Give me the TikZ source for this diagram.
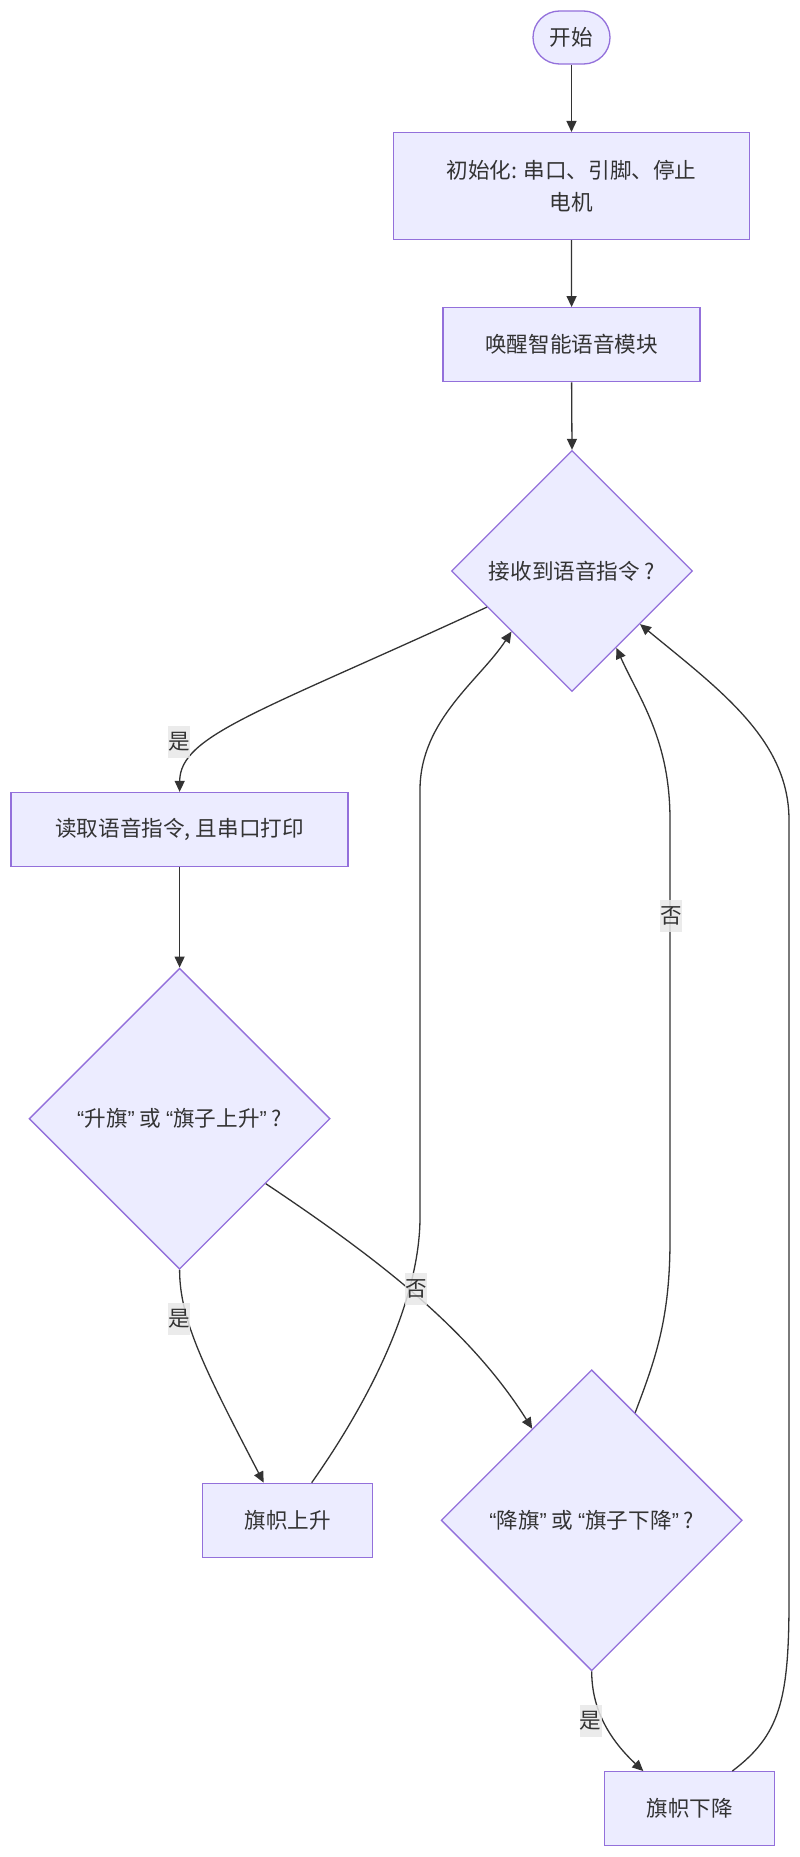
\documentclass[tikz,border=0pt]{standalone}
\usepackage{fontspec}
\setmainfont{Noto Sans CJK SC}
\newfontfamily\lat{Liberation Sans}
\usetikzlibrary{shapes.geometric,arrows.meta}
\definecolor{nfill}{HTML}{ECECFF}
\definecolor{nline}{HTML}{9370DB}
\definecolor{eline}{HTML}{333333}
\definecolor{lblbg}{HTML}{E8E8E8}
\begin{document}
\begin{tikzpicture}[x=1pt,y=-1pt,
  base/.style={draw=nline, fill=nfill, line width=1.3pt, text=eline, font=\fontsize{21.6}{31.7}\selectfont, inner sep=0pt, align=center},
  boxnode/.style={base, rectangle},
  decision/.style={base, diamond, aspect=1},
  conn/.style={draw=eline, line width=1.3pt, -{Triangle[length=11pt,width=10pt]}},
  lbl/.style={fill=lblbg, fill opacity=0.85, text opacity=1, text=eline, font=\fontsize{21.6}{31.7}\selectfont, inner xsep=0pt, inner ysep=0pt, minimum height=32pt}
]
\fill[white] (0,0) rectangle (800,1857);
\useasboundingbox (0,0) rectangle (800,1857);

\node[boxnode, rounded corners=26.5pt, minimum width=77pt, minimum height=53pt] (start) at (571.5,37.5) {开始};
\node[boxnode, minimum width=355.6pt, minimum height=106.7pt] (init) at (571.5,186) {初始化: 串口、引脚、停止\\电机};
\node[boxnode, minimum width=257pt, minimum height=74pt] (wake) at (571.6,344.7) {唤醒智能语音模块};
\node[decision, minimum width=241pt, minimum height=241pt] (d1) at (572,571) {接收到语音指令\ ?};
\node[boxnode, minimum width=337pt, minimum height=74pt] (read) at (179.6,829.5) {读取语音指令, 且串口打印};
\node[decision, minimum width=301pt, minimum height=301pt] (d2) at (179.6,1118.7) {{\lat “}升旗{\lat ”} 或 {\lat “}旗子上升{\lat ”}\ ?};
\node[decision, minimum width=301pt, minimum height=301pt] (d3) at (591.7,1520.3) {{\lat “}降旗{\lat ”} 或 {\lat “}旗子下降{\lat ”}\ ?};
\node[boxnode, minimum width=170pt, minimum height=74pt] (up) at (287.7,1520.3) {旗帜上升};
\node[boxnode, minimum width=170pt, minimum height=74pt] (down) at (689.8,1808.7) {旗帜下降};

\draw[conn] (start.south) -- (init.north);
\draw[conn] (init.south) -- (wake.north);
\draw[conn] (wake.south) -- (d1.north);
\draw[conn] (d1.203.5) .. controls (260,712) and (180,735) .. (read.north);
\draw[conn] (read.south) -- (d2.north);
\draw[conn] (d2.south) .. controls (179.6,1320) and (205,1370) .. ([xshift=-24pt]up.north);
\draw[conn] (d2.323.9) .. controls (380,1260) and (470,1330) .. (d3.123.9);
\draw[conn] ([xshift=24pt]up.north) .. controls (370,1400) and (420,1300) .. (420,1217) -- (420,790) .. controls (420,720) and (480,680) .. (d1.south west);
\draw[conn] (d3.68.7) .. controls (655,1360) and (670,1320) .. (670,1240) -- (670,820) .. controls (670,740) and (640,700) .. (d1.300.9);
\draw[conn] ([xshift=42.5pt]down.north) .. controls (780,1735) and (789,1700) .. (789,1600) -- (789,820) .. controls (789,740) and (720,690) .. (d1.322.7);
\draw[conn] (d3.south) .. controls (591.7,1710) and (610,1740) .. ([xshift=-46.5pt]down.north);

\node[lbl] (l1) at (179,742) {是};
\node[lbl] (l2) at (179,1319) {是};
\node[lbl] (l3) at (416,1289) {否};
\node[lbl] (l4) at (670.8,916) {否};
\node[lbl] (l5) at (590.7,1721) {是};
\end{tikzpicture}
\end{document}
